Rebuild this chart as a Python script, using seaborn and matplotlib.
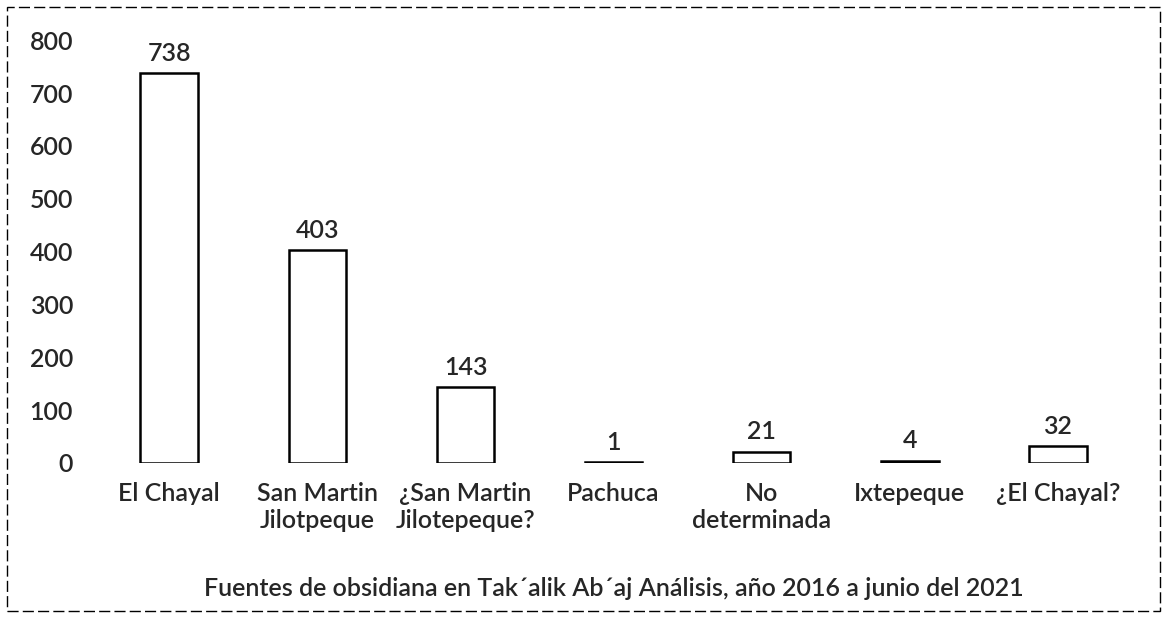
import matplotlib.pyplot as plt
import seaborn as sns
import pandas as pd
from matplotlib.patches import Rectangle

# Datos
fuentes = ['El Chayal', 'San Martin\nJilotpeque', '¿San Martin\nJilotepeque?', 'Pachuca',
           'No\ndeterminada', 'Ixtepeque', '¿El Chayal?']
conteo = [738, 403, 143, 1, 21, 4, 32]
titulo = 'Fuentes de obsidiana en Tak´alik Ab´aj Análisis, año 2016 a junio del 2021'

df = pd.DataFrame({'Fuente': fuentes, 'Conteo': conteo})

sns.set_style('white')
plt.rcParams['font.family'] = ['Lato', 'DejaVu Sans']
plt.rcParams['font.weight'] = 'semibold'
plt.rcParams['axes.labelweight'] = 'semibold'

fig = plt.figure(figsize=(11.62, 6.18), dpi=100)
ax = fig.add_axes([0.082, 0.251, 0.892, 0.684])

grafico = sns.barplot(data=df, x='Fuente', y='Conteo', ax=ax, color='white',
                      edgecolor='black', linewidth=1.8, width=0.39)

# Etiquetas de valor sobre cada barra
ax.bar_label(ax.containers[0], padding=6, fontsize=18, fontweight='semibold')

ax.set_ylim(0, 800)
ax.set_xlim(-0.5, 6.5)
ax.set_yticks(range(0, 801, 100))
ax.tick_params(axis='y', labelsize=18, pad=16, length=0)
ax.tick_params(axis='x', labelsize=18, pad=14, length=0)
ax.set_ylabel('')
ax.set_xlabel(titulo, fontsize=18, labelpad=32)
sns.despine(ax=ax, left=True, bottom=True)

# Marco del grafico
fig.patches.append(Rectangle((0.006, 0.012), 0.992, 0.976, transform=fig.transFigure,
                             fill=False, edgecolor='black', linewidth=1.0,
                             linestyle=(0, (8, 3))))

plt.savefig('out.png', dpi=100)
